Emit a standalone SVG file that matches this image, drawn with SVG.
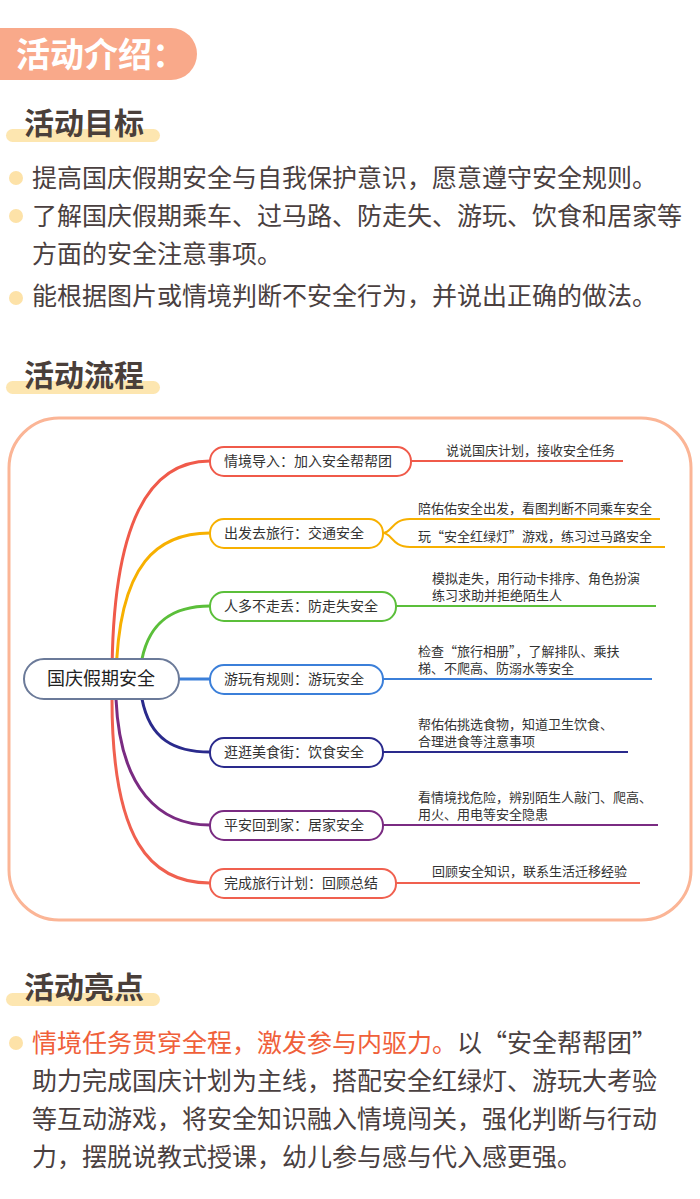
<svg xmlns="http://www.w3.org/2000/svg" width="700" height="1199" viewBox="0 0 700 1199">
<style>
text{font-family:"Noto Sans CJK SC","Noto Sans",sans-serif}
.h{font-size:30px;font-weight:bold;fill:#4a3f3a}
.bar{fill:#fde6b0}
.b{font-size:25px;fill:#4a4040}
.dot{fill:#fde2a8}
.n{fill:#fff;stroke-width:2}
.nt{font-size:14px;fill:#333}
.st{font-size:13px;fill:#333}
.c{fill:none;stroke-width:3}
.l{fill:none;stroke-width:2}
</style>
<rect width="700" height="1199" fill="#fff"/>
<g id="title">
<path d="M0 28 H171 A26 26 0 0 1 171 80 H0 Z" fill="#f9a98a"/>
<text x="16" y="67" font-size="34" font-weight="bold" fill="#fff">活动介绍：</text>
</g>
<g id="goals">
<rect class="bar" x="6" y="129" width="154" height="13" rx="6.5"/>
<text class="h" x="24" y="134">活动目标</text>
<circle class="dot" cx="16" cy="178" r="7"/>
<text class="b" x="32" y="187">提高国庆假期安全与自我保护意识，愿意遵守安全规则。</text>
<circle class="dot" cx="16" cy="216" r="7"/>
<text class="b" x="32" y="225">了解国庆假期乘车、过马路、防走失、游玩、饮食和居家等</text>
<text class="b" x="32" y="263">方面的安全注意事项。</text>
<circle class="dot" cx="16" cy="298" r="7"/>
<text class="b" x="32" y="305">能根据图片或情境判断不安全行为，并说出正确的做法。</text>
</g>
<g id="flowhead">
<rect class="bar" x="6" y="381" width="154" height="13" rx="6.5"/>
<text class="h" x="24" y="386">活动流程</text>
</g>
<rect x="9" y="418" width="682" height="502" rx="50" fill="#fff" stroke="#fbb596" stroke-width="3"/>
<g id="connectors">
<path class="c" stroke="#f05a4a" d="M112 679 C112 520 150 461 210 461"/>
<path class="c" stroke="#f7b000" d="M116 679 C118 560 160 533 210 533"/>
<path class="c" stroke="#5bbf3a" d="M142 659 C150 620 175 606 210 606"/>
<path class="c" stroke="#3b7fd9" d="M179 679 H210"/>
<path class="c" stroke="#2a2a8c" d="M142 699 C150 740 175 752 210 752"/>
<path class="c" stroke="#7a2b82" d="M116 699 C120 790 160 825 210 825"/>
<path class="c" stroke="#f0604f" d="M112 699 C112 840 150 883 210 883"/>
<path class="l" stroke="#f05a4a" d="M411 461 H623"/>
<path class="l" stroke="#f7b000" d="M383 533 C392 533 392 519 410 519 H660 M383 533 C392 533 392 547 410 547 H665"/>
<path class="l" stroke="#5bbf3a" d="M396 606 H656"/>
<path class="l" stroke="#3b7fd9" d="M383 679 H652"/>
<path class="l" stroke="#2a2a8c" d="M383 752 H628"/>
<path class="l" stroke="#7a2b82" d="M383 825 H658"/>
<path class="l" stroke="#f0604f" d="M396 883 H640"/>
</g>
<g id="center"><rect x="24" y="659" width="155" height="40" rx="20" fill="#fff" stroke="#6b7a99" stroke-width="2"/><text x="101" y="685" font-size="18" fill="#222" text-anchor="middle">国庆假期安全</text></g>
<g id="n1"><rect class="n" stroke="#f05a4a" x="210" y="447" width="201" height="29" rx="14"/><text class="nt" x="224" y="466">情境导入：加入安全帮帮团</text><text class="st" x="446" y="455">说说国庆计划，接收安全任务</text></g>
<g id="n2"><rect class="n" stroke="#f7b000" x="210" y="519" width="173" height="29" rx="14"/><text class="nt" x="224" y="538">出发去旅行：交通安全</text><text class="st" x="418" y="513">陪佑佑安全出发，看图判断不同乘车安全</text><text class="st" x="418" y="541">玩“安全红绿灯”游戏，练习过马路安全</text></g>
<g id="n3"><rect class="n" stroke="#5bbf3a" x="210" y="592" width="186" height="29" rx="14"/><text class="nt" x="224" y="611">人多不走丢：防走失安全</text><text class="st" x="432" y="583">模拟走失，用行动卡排序、角色扮演</text><text class="st" x="432" y="600">练习求助并拒绝陌生人</text></g>
<g id="n4"><rect class="n" stroke="#3b7fd9" x="210" y="665" width="173" height="29" rx="14"/><text class="nt" x="224" y="684">游玩有规则：游玩安全</text><text class="st" x="418" y="656">检查“旅行相册”，了解排队、乘扶</text><text class="st" x="418" y="673">梯、不爬高、防溺水等安全</text></g>
<g id="n5"><rect class="n" stroke="#2a2a8c" x="210" y="738" width="173" height="29" rx="14"/><text class="nt" x="224" y="757">逛逛美食街：饮食安全</text><text class="st" x="418" y="729">帮佑佑挑选食物，知道卫生饮食、</text><text class="st" x="418" y="746">合理进食等注意事项</text></g>
<g id="n6"><rect class="n" stroke="#7a2b82" x="210" y="811" width="173" height="29" rx="14"/><text class="nt" x="224" y="830">平安回到家：居家安全</text><text class="st" x="418" y="802">看情境找危险，辨别陌生人敲门、爬高、</text><text class="st" x="418" y="819">用火、用电等安全隐患</text></g>
<g id="n7"><rect class="n" stroke="#f0604f" x="210" y="869" width="186" height="29" rx="14"/><text class="nt" x="224" y="888">完成旅行计划：回顾总结</text><text class="st" x="432" y="876">回顾安全知识，联系生活迁移经验</text></g>
<g id="highlights">
<rect class="bar" x="6" y="993" width="154" height="13" rx="6.5"/>
<text class="h" x="24" y="998">活动亮点</text>
<circle class="dot" cx="16" cy="1043" r="7"/>
<text class="b" x="32" y="1052"><tspan fill="#f0603a">情境任务贯穿全程，激发参与内驱力。</tspan>以“安全帮帮团”</text>
<text class="b" x="32" y="1090">助力完成国庆计划为主线，搭配安全红绿灯、游玩大考验</text>
<text class="b" x="32" y="1128">等互动游戏，将安全知识融入情境闯关，强化判断与行动</text>
<text class="b" x="32" y="1166">力，摆脱说教式授课，幼儿参与感与代入感更强。</text>
</g>
</svg>
